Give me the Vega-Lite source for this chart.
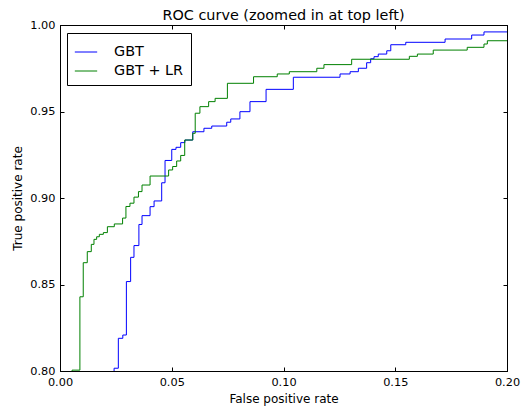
{
  "$schema": "https://vega.github.io/schema/vega-lite/v6.json",
  "width": 447,
  "height": 346,
  "autosize": "none",
  "padding": {"left": 60, "top": 25, "right": 14, "bottom": 39},
  "background": "white",
  "config": {
    "font": "DejaVu Sans",
    "view": {"stroke": "black", "strokeWidth": 1},
    "axis": {
      "grid": false,
      "domainColor": "black",
      "domainWidth": 1,
      "tickColor": "black",
      "tickWidth": 1,
      "tickSize": -4,
      "labelColor": "black",
      "labelFontSize": 11.3,
      "labelFont": "DejaVu Sans",
      "titleColor": "black",
      "titleFontSize": 12,
      "titleFontWeight": "normal",
      "titleFont": "DejaVu Sans"
    },
    "title": {"font": "DejaVu Sans", "fontSize": 14.4, "fontWeight": "normal", "color": "black", "offset": -4}
  },
  "title": "ROC curve (zoomed in at top left)",
  "datasets": {
    "roc": [
      {"model": "GBT", "fpr": 0.0, "tpr": 0.75},
      {"model": "GBT", "fpr": 0.0242, "tpr": 0.8016},
      {"model": "GBT", "fpr": 0.0261, "tpr": 0.8189},
      {"model": "GBT", "fpr": 0.0281, "tpr": 0.8208},
      {"model": "GBT", "fpr": 0.0297, "tpr": 0.8517},
      {"model": "GBT", "fpr": 0.0316, "tpr": 0.8657},
      {"model": "GBT", "fpr": 0.0331, "tpr": 0.8725},
      {"model": "GBT", "fpr": 0.0353, "tpr": 0.8847},
      {"model": "GBT", "fpr": 0.0367, "tpr": 0.8898},
      {"model": "GBT", "fpr": 0.0403, "tpr": 0.8950},
      {"model": "GBT", "fpr": 0.0421, "tpr": 0.8983},
      {"model": "GBT", "fpr": 0.0455, "tpr": 0.9088},
      {"model": "GBT", "fpr": 0.0470, "tpr": 0.9217},
      {"model": "GBT", "fpr": 0.0500, "tpr": 0.9281},
      {"model": "GBT", "fpr": 0.0519, "tpr": 0.9293},
      {"model": "GBT", "fpr": 0.0540, "tpr": 0.9320},
      {"model": "GBT", "fpr": 0.0559, "tpr": 0.9335},
      {"model": "GBT", "fpr": 0.0594, "tpr": 0.9383},
      {"model": "GBT", "fpr": 0.0644, "tpr": 0.9403},
      {"model": "GBT", "fpr": 0.0679, "tpr": 0.9416},
      {"model": "GBT", "fpr": 0.0746, "tpr": 0.9438},
      {"model": "GBT", "fpr": 0.0764, "tpr": 0.9457},
      {"model": "GBT", "fpr": 0.0805, "tpr": 0.9499},
      {"model": "GBT", "fpr": 0.0850, "tpr": 0.9557},
      {"model": "GBT", "fpr": 0.0922, "tpr": 0.9628},
      {"model": "GBT", "fpr": 0.1044, "tpr": 0.9698},
      {"model": "GBT", "fpr": 0.1253, "tpr": 0.9717},
      {"model": "GBT", "fpr": 0.1298, "tpr": 0.9730},
      {"model": "GBT", "fpr": 0.1335, "tpr": 0.9750},
      {"model": "GBT", "fpr": 0.1372, "tpr": 0.9782},
      {"model": "GBT", "fpr": 0.1390, "tpr": 0.9805},
      {"model": "GBT", "fpr": 0.1405, "tpr": 0.9817},
      {"model": "GBT", "fpr": 0.1424, "tpr": 0.9832},
      {"model": "GBT", "fpr": 0.1462, "tpr": 0.9851},
      {"model": "GBT", "fpr": 0.1480, "tpr": 0.9886},
      {"model": "GBT", "fpr": 0.1547, "tpr": 0.9900},
      {"model": "GBT", "fpr": 0.1723, "tpr": 0.9919},
      {"model": "GBT", "fpr": 0.1842, "tpr": 0.9942},
      {"model": "GBT", "fpr": 0.1897, "tpr": 0.9960},
      {"model": "GBT", "fpr": 0.2100, "tpr": 0.9960},
      {"model": "GBT + LR", "fpr": 0.0, "tpr": 0.75},
      {"model": "GBT + LR", "fpr": 0.0054, "tpr": 0.8005},
      {"model": "GBT + LR", "fpr": 0.0089, "tpr": 0.8429},
      {"model": "GBT + LR", "fpr": 0.0104, "tpr": 0.8626},
      {"model": "GBT + LR", "fpr": 0.0122, "tpr": 0.8690},
      {"model": "GBT + LR", "fpr": 0.0140, "tpr": 0.8732},
      {"model": "GBT + LR", "fpr": 0.0152, "tpr": 0.8761},
      {"model": "GBT + LR", "fpr": 0.0164, "tpr": 0.8776},
      {"model": "GBT + LR", "fpr": 0.0176, "tpr": 0.8790},
      {"model": "GBT + LR", "fpr": 0.0194, "tpr": 0.8800},
      {"model": "GBT + LR", "fpr": 0.0212, "tpr": 0.8834},
      {"model": "GBT + LR", "fpr": 0.0243, "tpr": 0.8850},
      {"model": "GBT + LR", "fpr": 0.0280, "tpr": 0.8884},
      {"model": "GBT + LR", "fpr": 0.0295, "tpr": 0.8951},
      {"model": "GBT + LR", "fpr": 0.0313, "tpr": 0.8970},
      {"model": "GBT + LR", "fpr": 0.0331, "tpr": 0.9005},
      {"model": "GBT + LR", "fpr": 0.0351, "tpr": 0.9037},
      {"model": "GBT + LR", "fpr": 0.0367, "tpr": 0.9075},
      {"model": "GBT + LR", "fpr": 0.0403, "tpr": 0.9127},
      {"model": "GBT + LR", "fpr": 0.0486, "tpr": 0.9162},
      {"model": "GBT + LR", "fpr": 0.0504, "tpr": 0.9182},
      {"model": "GBT + LR", "fpr": 0.0522, "tpr": 0.9214},
      {"model": "GBT + LR", "fpr": 0.0540, "tpr": 0.9246},
      {"model": "GBT + LR", "fpr": 0.0558, "tpr": 0.9335},
      {"model": "GBT + LR", "fpr": 0.0594, "tpr": 0.9374},
      {"model": "GBT + LR", "fpr": 0.0605, "tpr": 0.9490},
      {"model": "GBT + LR", "fpr": 0.0626, "tpr": 0.9528},
      {"model": "GBT + LR", "fpr": 0.0665, "tpr": 0.9557},
      {"model": "GBT + LR", "fpr": 0.0694, "tpr": 0.9576},
      {"model": "GBT + LR", "fpr": 0.0749, "tpr": 0.9663},
      {"model": "GBT + LR", "fpr": 0.0866, "tpr": 0.9701},
      {"model": "GBT + LR", "fpr": 0.0972, "tpr": 0.9717},
      {"model": "GBT + LR", "fpr": 0.1026, "tpr": 0.9730},
      {"model": "GBT + LR", "fpr": 0.1149, "tpr": 0.9750},
      {"model": "GBT + LR", "fpr": 0.1181, "tpr": 0.9771},
      {"model": "GBT + LR", "fpr": 0.1305, "tpr": 0.9802},
      {"model": "GBT + LR", "fpr": 0.1563, "tpr": 0.9819},
      {"model": "GBT + LR", "fpr": 0.1599, "tpr": 0.9832},
      {"model": "GBT + LR", "fpr": 0.1670, "tpr": 0.9855},
      {"model": "GBT + LR", "fpr": 0.1822, "tpr": 0.9871},
      {"model": "GBT + LR", "fpr": 0.1897, "tpr": 0.9890},
      {"model": "GBT + LR", "fpr": 0.1912, "tpr": 0.9909},
      {"model": "GBT + LR", "fpr": 0.2100, "tpr": 0.9909}
    ]
  },
  "data": {"name": "roc"},
  "layer": [
    {
      "mark": {"type": "line", "interpolate": "step-after", "clip": true, "strokeWidth": 1},
      "encoding": {
        "x": {
          "field": "fpr", "type": "quantitative",
          "scale": {"domain": [0, 0.2], "nice": false, "zero": false},
          "axis": {"title": "False positive rate", "values": [0, 0.05, 0.1, 0.15, 0.2], "format": ".2f", "labelPadding": 9, "titlePadding": 6, "labelFlush": false}
        },
        "y": {
          "field": "tpr", "type": "quantitative",
          "scale": {"domain": [0.8, 1.0], "nice": false, "zero": false},
          "axis": {"title": "True positive rate", "values": [0.8, 0.85, 0.9, 0.95, 1.0], "format": ".2f", "labelPadding": 9, "titlePadding": 5}
        },
        "color": {
          "field": "model", "type": "nominal",
          "scale": {"domain": ["GBT", "GBT + LR"], "range": ["#0000ff", "#008000"]},
          "legend": {
            "title": null,
            "orient": "none",
            "legendX": 7,
            "legendY": 8,
            "strokeColor": "black",
            "fillColor": "white",
            "cornerRadius": 0,
            "padding": 7,
            "symbolType": "stroke",
            "symbolSize": 500,
            "symbolStrokeWidth": 1,
            "labelFontSize": 14.4,
            "labelColor": "black",
            "labelOffset": 16,
            "rowPadding": 0
          }
        }
      }
    },
    {
      "mark": {"type": "line", "opacity": 0, "clip": true},
      "encoding": {
        "x": {
          "field": "fpr", "type": "quantitative",
          "scale": {"domain": [0, 0.2], "nice": false, "zero": false},
          "axis": {"orient": "top", "title": null, "labels": false, "values": [0, 0.05, 0.1, 0.15, 0.2]}
        },
        "y": {
          "field": "tpr", "type": "quantitative",
          "scale": {"domain": [0.8, 1.0], "nice": false, "zero": false},
          "axis": {"orient": "right", "title": null, "labels": false, "values": [0.8, 0.85, 0.9, 0.95, 1.0]}
        }
      }
    }
  ],
  "resolve": {"axis": {"x": "independent", "y": "independent"}}
}
